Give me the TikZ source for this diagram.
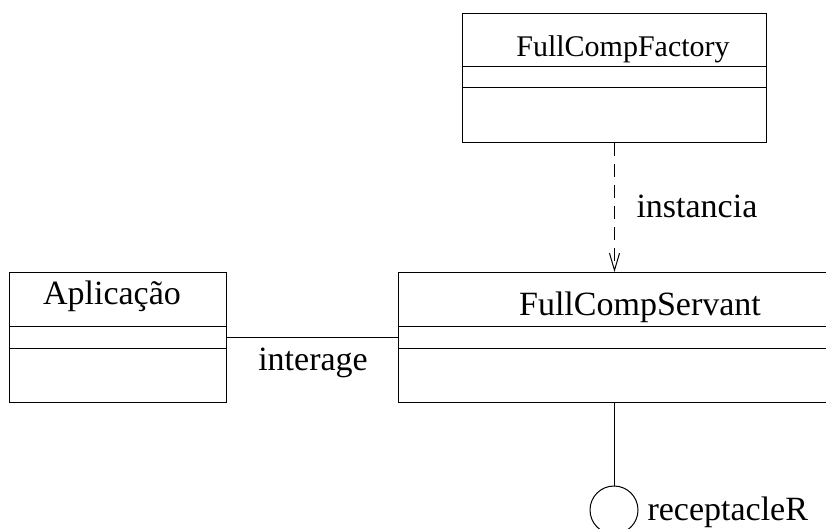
\documentclass[tikz,border=0pt]{standalone}
\usepackage{fontspec}
\setmainfont{Liberation Serif}
\usetikzlibrary{arrows.meta, positioning}

\begin{document}
\begin{tikzpicture}[x=1pt, y=-1pt, line width=1pt,
    >={Straight Barb[length=17pt, width=10pt]},
    umlbox/.style={draw, rectangle, inner sep=0pt, anchor=north west},
    lbl/.style={font=\fontsize{34}{40}\selectfont, inner sep=0pt, anchor=base},
    lblsmall/.style={font=\fontsize{30}{36}\selectfont, inner sep=0pt, anchor=base}]

    % --- PAGE ---
    \useasboundingbox (0,0) rectangle (826,529);
    \clip (0,0) rectangle (826,529);

    % --- CLASSES ---
    \node[umlbox, minimum width=304pt, minimum height=129pt] (factory) at (462,13) {};
    \node[umlbox, minimum width=217pt, minimum height=130pt] (app) at (9,272) {};
    \node[umlbox, minimum width=484pt, minimum height=130pt] (servant) at (398,272) {};

    % compartments
    \foreach \b/\d in {factory/54, factory/75, app/54, app/76, servant/54, servant/76} {
        \draw ([yshift=-\d pt]\b.north west) -- ([yshift=-\d pt]\b.north east);
    }

    % class names
    \node[lblsmall] (factoryname) at (623,57) {FullCompFactory};
    \node[lbl] (appname) at (112,304) {Aplicação};
    \node[lbl] (servantname) at (640,315) {FullCompServant};

    % --- RECEPTACLE ---
    \node[draw, circle, minimum size=48pt, inner sep=0pt] (recR) at (614,510) {};
    \node[lbl, anchor=base west] (recRname) at (647,520) {receptacleR};

    % --- CONNECTORS ---
    \draw[dash pattern=on 13pt off 8pt, ->] (factory.south) -- (factory.south |- servant.north);
    \node[lbl, anchor=base west] (inst) at (636,218) {instancia};

    \draw ([yshift=-65pt]app.north east) -- ([yshift=-65pt]servant.north west);
    \node[lbl] (inter) at (313,370) {interage};

    \draw (recR.north |- servant.south) -- (recR.north);

\end{tikzpicture}
\end{document}
